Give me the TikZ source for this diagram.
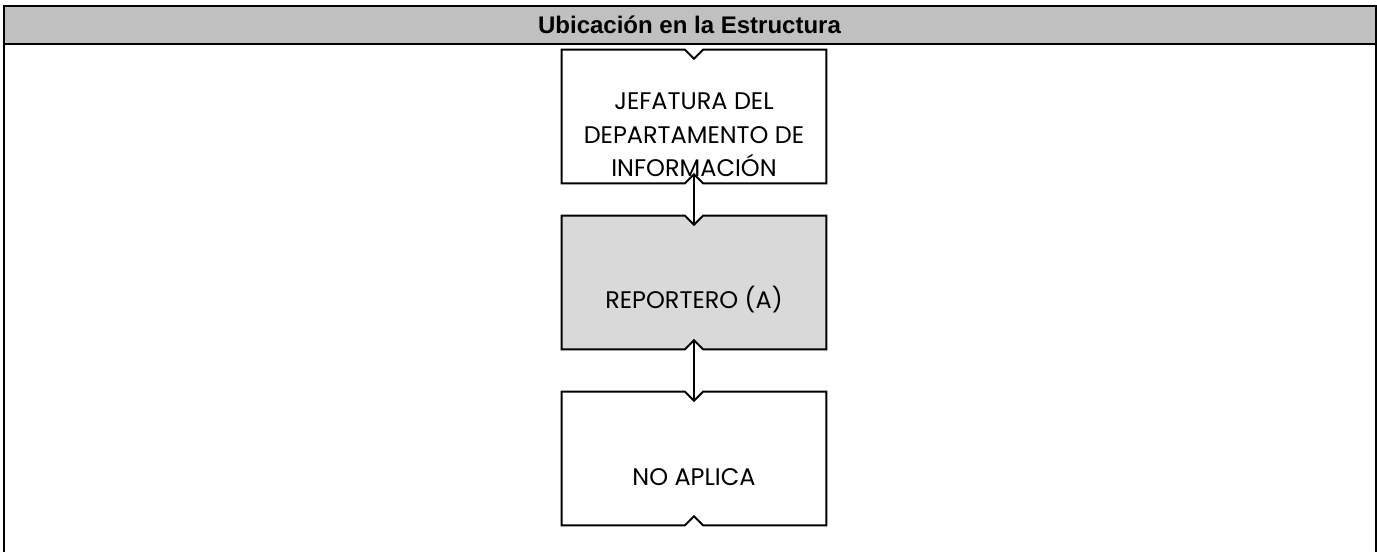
\documentclass[tikz,border=0pt]{standalone}
\usepackage{fontspec}
\newfontfamily\boxfont{Poppins}
\newfontfamily\headfont{Liberation Sans}
\newcommand\notchbox[2]{%
  \path[boxline, fill=#2]
    (#1.north west) -- ([xshift=-6.75pt]#1.north) -- ([yshift=-6.75pt]#1.north)
    -- ([xshift=6.75pt]#1.north) -- (#1.north east) -- (#1.south east)
    -- ([xshift=6.75pt]#1.south) -- ([yshift=6.75pt]#1.south)
    -- ([xshift=-6.75pt]#1.south) -- (#1.south west) -- cycle;}
\begin{document}
\begin{tikzpicture}[x=0.75pt,y=-0.75pt,
  frameline/.style={line width=1.5pt, draw=black},
  boxline/.style={line width=1.5pt, draw=black, line join=miter},
  orgbox/.style={minimum width=198pt, minimum height=99.75pt, inner sep=0pt, draw=none},
  boxtext/.style={font=\boxfont\fontsize{18}{25}\selectfont, align=center, inner sep=0pt, anchor=base},
  headtext/.style={font=\headfont\bfseries\fontsize{18}{21}\selectfont, inner sep=0pt},
  conn/.style={line width=1.5pt, draw=black}]
\useasboundingbox (0,0) rectangle (1377,552);
\clip (0,0) rectangle (1377,552);
\definecolor{headgray}{RGB}{192,192,192}
\definecolor{boxgray}{RGB}{217,217,217}
% header band
\path[fill=headgray] (4,6) rectangle (1375.5,44);
\node[headtext] (head) at (689.5,25) {Ubicación en la Estructura};
\draw[frameline] (4,560) -- (4,6) -- (1375.5,6) -- (1375.5,560);
\draw[frameline] (4,44) -- (1375.5,44);
% boxes
\node[orgbox] (b1) at (694,116.5) {};
\node[orgbox] (b2) at (694,282.5) {};
\node[orgbox] (b3) at (694,458.5) {};
\notchbox{b1}{white}
\notchbox{b2}{boxgray}
\notchbox{b3}{white}
\node[boxtext] (t1) at (694,176.5) {JEFATURA DEL\\DEPARTAMENTO DE\\INFORMACIÓN};
\node[boxtext] (t2) at (694,308) {REPORTERO (A)};
\node[boxtext] (t3) at (694,485) {NO APLICA};
% connectors
\draw[conn] ([yshift=6.75pt]b1.south) -- ([yshift=-6.75pt]b2.north);
\draw[conn] ([yshift=6.75pt]b2.south) -- ([yshift=-6.75pt]b3.north);
\end{tikzpicture}
\end{document}
